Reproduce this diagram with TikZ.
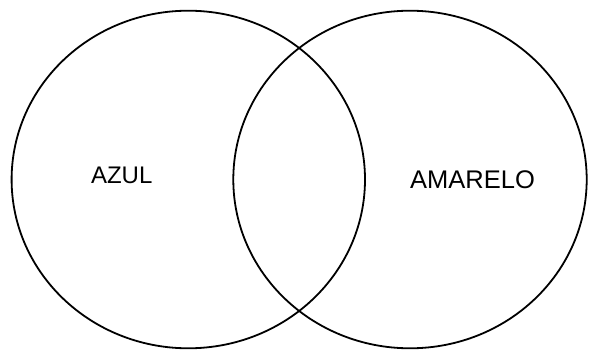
\documentclass[tikz,border=0pt]{standalone}
\usepackage{fontspec}
\setmainfont{Liberation Sans}
\tikzset{
  venn/.style={draw=black, line width=1.8pt},
  lbl/.style={inner sep=0pt}
}
\begin{document}
\begin{tikzpicture}[x=1pt,y=-1pt]
\useasboundingbox (0,0) rectangle (589,350);
\fill[white] (0,0) rectangle (589,350);
\draw[venn] (188.3,179.5) ellipse [x radius=176.7, y radius=168.8];
\draw[venn] (410,179.5) ellipse [x radius=176.7, y radius=168.8];
\node[lbl, font=\fontsize{24}{28}\selectfont] (azul) at (121.7,175) {AZUL};
\node[lbl, font=\fontsize{25.5}{30}\selectfont] (amarelo) at (472.5,180) {AMARELO};
\end{tikzpicture}
\end{document}
